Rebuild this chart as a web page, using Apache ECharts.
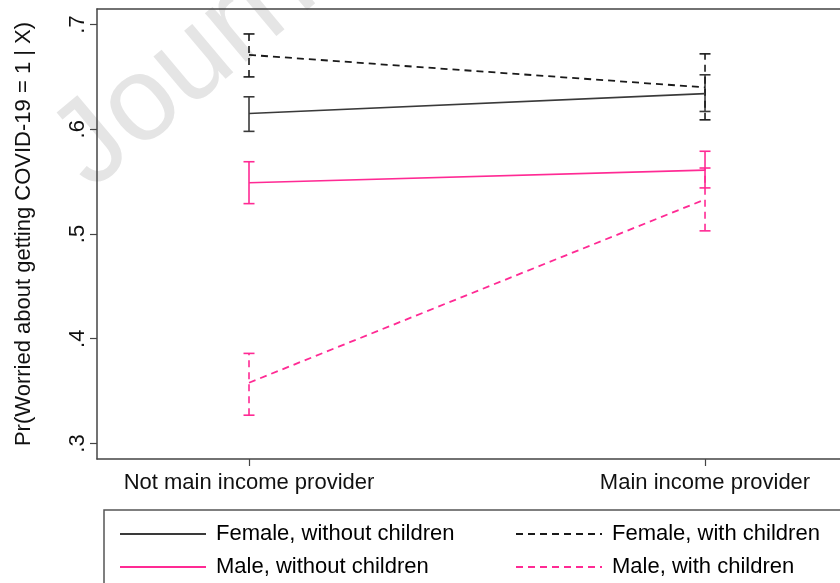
<!DOCTYPE html>
<html>
<head>
<meta charset="utf-8">
<script src="https://cdn.jsdelivr.net/npm/echarts@6/dist/echarts.min.js"></script>
<style>html,body{margin:0;padding:0;background:#fff}#c{width:840px;height:583px}</style>
</head>
<body>
<div id="c"></div>
<script>
// ---- data ----
var categories = ['Not main income provider', 'Main income provider'];
var yTicks = [0.3, 0.4, 0.5, 0.6, 0.7];
var seriesNames = ['Female, without children', 'Female, with children', 'Male, without children', 'Male, with children'];
var femaleNoKids = [0.615, 0.634];
var femaleNoKidsLo = [0.598, 0.617];
var femaleNoKidsHi = [0.631, 0.652];
var femaleKids = [0.671, 0.640];
var femaleKidsLo = [0.650, 0.609];
var femaleKidsHi = [0.691, 0.672];
var maleNoKids = [0.549, 0.561];
var maleNoKidsLo = [0.529, 0.544];
var maleNoKidsHi = [0.569, 0.579];
var maleKids = [0.358, 0.533];
var maleKidsLo = [0.327, 0.503];
var maleKidsHi = [0.386, 0.563];

var FONT = 'Liberation Sans, Arial, Helvetica, sans-serif';
var FS = 22;
var GRAY = '#3a3a3a', BLACK = '#1a1a1a', PINK = '#ff2a94';
var DASH = [7, 5];
var AXIS_COLOR = '#444';

function pts(vals) { return vals.map(function (v, i) { return [i, v]; }); }
function bars(lo, hi) { return lo.map(function (v, i) { return [i, v, hi[i]]; }); }

function errSeries(name, lo, hi, color, dashed) {
  return {
    type: 'custom', name: name + ' CI', silent: true, z: 3,
    data: bars(lo, hi),
    encode: { x: 0, y: [1, 2] },
    renderItem: function (params, api) {
      var x = api.value(0);
      var p1 = api.coord([x, api.value(1)]);
      var p2 = api.coord([x, api.value(2)]);
      var hw = 5.5;
      var st = { stroke: color, lineWidth: 1.6, fill: null };
      return {
        type: 'group',
        children: [
          { type: 'line', shape: { x1: p1[0], y1: p1[1], x2: p2[0], y2: p2[1] },
            style: { stroke: color, lineWidth: 1.6, lineDash: dashed ? DASH : null } },
          { type: 'line', shape: { x1: p1[0] - hw, y1: p1[1], x2: p1[0] + hw, y2: p1[1] }, style: st },
          { type: 'line', shape: { x1: p2[0] - hw, y1: p2[1], x2: p2[0] + hw, y2: p2[1] }, style: st }
        ]
      };
    }
  };
}

function lineSeries(name, vals, color, dashed) {
  return {
    type: 'line', name: name, data: pts(vals), symbol: 'none', z: 4,
    lineStyle: { color: color, width: dashed ? 1.8 : 1.6, type: dashed ? DASH : 'solid' },
    itemStyle: { color: color }
  };
}

function legendAt(name, left, top) {
  return {
    orient: 'horizontal', left: left, top: top, itemWidth: 86, itemHeight: 14,
    data: [name], selectedMode: false,
    itemStyle: { opacity: 0 },
    textStyle: { fontFamily: FONT, fontSize: FS, color: '#000', padding: [0, 0, 0, 5] }
  };
}

var X_MIN = -1 / 3, X_MAX = 1.296;

var chart = echarts.init(document.getElementById('c'));
chart.setOption({
  backgroundColor: '#fff',
  animation: false,
  grid: { left: 97, right: 0, top: 9, bottom: 124 },
  xAxis: [{
    type: 'value', min: X_MIN, max: X_MAX,
    splitLine: { show: false },
    axisLine: { show: true, onZero: false, lineStyle: { color: AXIS_COLOR, width: 1.5 } },
    axisTick: { show: true, length: 7, customValues: [0, 1], lineStyle: { color: AXIS_COLOR, width: 1.2 } },
    axisLabel: {
      customValues: [0, 1], margin: 13, fontFamily: FONT, fontSize: FS, color: '#111',
      formatter: function (v) { return categories[Math.round(v)]; }
    }
  }, {
    type: 'value', position: 'top', min: X_MIN, max: X_MAX,
    splitLine: { show: false }, axisTick: { show: false }, axisLabel: { show: false },
    axisLine: { show: true, onZero: false, lineStyle: { color: AXIS_COLOR, width: 1.5 } }
  }],
  yAxis: {
    type: 'value', min: 0.3 - 15.5 / 1045, max: 0.7 + 15.5 / 1045,
    name: 'Pr(Worried about getting COVID-19 = 1 | X)',
    nameLocation: 'middle', nameGap: 62, nameRotate: 90,
    nameTextStyle: { fontFamily: FONT, fontSize: FS, color: '#111' },
    splitLine: { show: false },
    axisLine: { show: true, onZero: false, lineStyle: { color: AXIS_COLOR, width: 1.5 } },
    axisTick: { show: true, length: 7, customValues: yTicks, lineStyle: { color: AXIS_COLOR, width: 1.2 } },
    axisLabel: {
      customValues: yTicks, rotate: 90, margin: 8, fontFamily: FONT, fontSize: FS, color: '#111',
      formatter: function (v) { return v.toFixed(1).replace(/^0/, ''); }
    }
  },
  legend: [
    legendAt(seriesNames[0], 114, 518),
    legendAt(seriesNames[2], 114, 551),
    legendAt(seriesNames[1], 510, 518),
    legendAt(seriesNames[3], 510, 551)
  ],
  graphic: [
    { type: 'text', z: -10, silent: true, x: 70, y: 166, rotation: 40 * Math.PI / 180,
      style: { text: 'Journal Pre-proof', fontFamily: FONT, fontSize: 120, fill: '#e5e5e5',
               textAlign: 'left', textVerticalAlign: 'middle' } },
    { type: 'rect', z: 1, silent: true, shape: { x: 104, y: 510, width: 800, height: 120 },
      style: { fill: null, stroke: '#555', lineWidth: 1.5 } }
  ],
  series: [
    errSeries(seriesNames[0], femaleNoKidsLo, femaleNoKidsHi, GRAY, false),
    errSeries(seriesNames[1], femaleKidsLo, femaleKidsHi, BLACK, true),
    errSeries(seriesNames[2], maleNoKidsLo, maleNoKidsHi, PINK, false),
    errSeries(seriesNames[3], maleKidsLo, maleKidsHi, PINK, true),
    lineSeries(seriesNames[0], femaleNoKids, GRAY, false),
    lineSeries(seriesNames[1], femaleKids, BLACK, true),
    lineSeries(seriesNames[2], maleNoKids, PINK, false),
    lineSeries(seriesNames[3], maleKids, PINK, true)
  ]
});
</script>
</body>
</html>
